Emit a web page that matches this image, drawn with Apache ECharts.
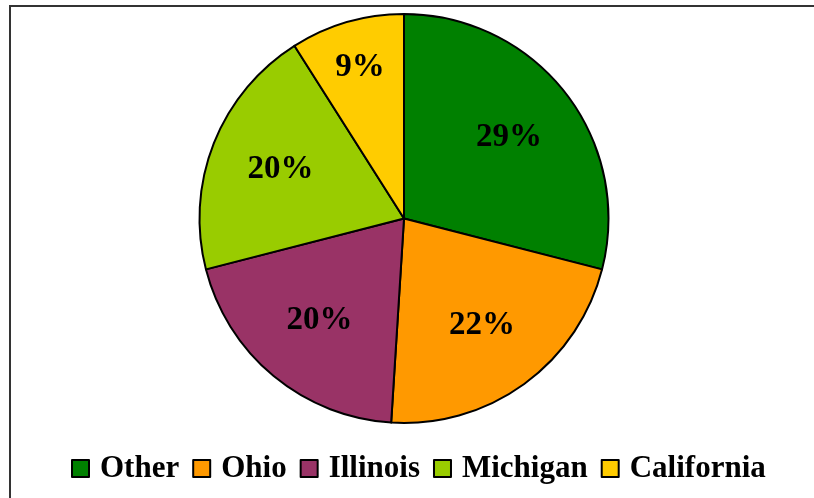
<!DOCTYPE html>
<html>
<head>
<meta charset="utf-8">
<style>
    html, body {margin: 0; padding: 0; background: #fff;}
    #frame {position: absolute; left: 9px; top: 5px; width: 820px; height: 520px; border-left: 2px solid #333; border-top: 2px solid #333;}
    #main {position: absolute; left: 0; top: 0; width: 814px; height: 498px;}
</style>
<script src="https://cdn.jsdelivr.net/npm/echarts@6/dist/echarts.min.js"></script>
</head>
<body>
<div id="frame"></div>
<div id="main"></div>
<script>
    var names = ['Other', 'Ohio', 'Illinois', 'Michigan', 'California'];
    var shares = [29, 22, 20, 20, 9];
    var colors = ['#008000', '#FF9900', '#993366', '#99CC00', '#FFCC00'];

    var pieData = names.map(function (n, i) {
        return {name: n, value: shares[i], itemStyle: {color: colors[i]}};
    });

    // label-only pies: the thin slice gets its label further out, like the original
    function labelData(wide) {
        return names.map(function (n, i) {
            var small = shares[i] < 10;
            return {name: n, value: shares[i], label: {show: wide ? !small : small}};
        });
    }
    var labelStyle = {
        show: true,
        position: 'inside',
        formatter: '{d}%',
        fontFamily: 'Liberation Serif',
        fontWeight: 'bold',
        fontSize: 33,
        color: '#000'
    };

    var chart = echarts.init(document.getElementById('main'));
    chart.setOption({
        animation: false,
        legend: {
            data: names,
            left: 66,
            top: 448,
            icon: 'rect',
            itemWidth: 17,
            itemHeight: 17,
            itemGap: 13,
            itemStyle: {borderColor: '#000', borderWidth: 2},
            textStyle: {fontFamily: 'Liberation Serif', fontWeight: 'bold', fontSize: 31, color: '#000', padding: [0, 0, 0, 6]}
        },
        series: [
            {
                type: 'pie',
                center: [404, 218.5],
                radius: [0, 204.5],
                startAngle: 90,
                silent: true,
                label: {show: false},
                labelLine: {show: false},
                itemStyle: {borderColor: '#000', borderWidth: 2},
                data: pieData
            },
            {
                type: 'pie',
                center: [404, 218.5],
                radius: [55, 204.5],
                startAngle: 90,
                silent: true,
                itemStyle: {color: 'rgba(0,0,0,0)', borderWidth: 0},
                label: labelStyle,
                labelLine: {show: false},
                data: labelData(true)
            },
            {
                type: 'pie',
                center: [404, 218.5],
                radius: [105, 204.5],
                startAngle: 90,
                silent: true,
                itemStyle: {color: 'rgba(0,0,0,0)', borderWidth: 0},
                label: labelStyle,
                labelLine: {show: false},
                data: labelData(false)
            }
        ]
    });
</script>
</body>
</html>
